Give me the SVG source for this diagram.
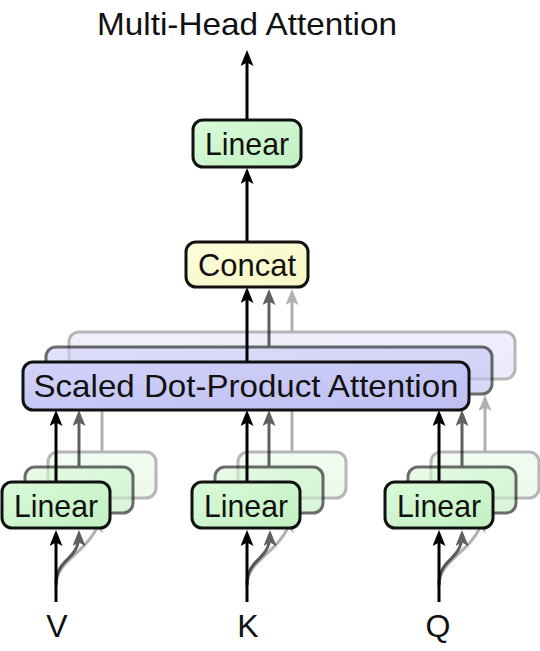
<svg xmlns="http://www.w3.org/2000/svg" width="540" height="651" viewBox="0 0 540 651">
<defs>
<marker id="ah" viewBox="0 0 16 13" refX="12" refY="6.5" markerWidth="16" markerHeight="13" markerUnits="userSpaceOnUse" orient="auto">
<path d="M0,0 L16,6.5 L0,13 L3.5,6.5 z" fill="#000"/>
</marker>
<linearGradient id="gG" x1="0" y1="0" x2="1" y2="1"><stop offset="0" stop-color="#d9fad9"/><stop offset="1" stop-color="#c2f0c2"/></linearGradient>
<linearGradient id="gB" x1="0" y1="0" x2="1" y2="1"><stop offset="0" stop-color="#d2d2fa"/><stop offset="1" stop-color="#bebef2"/></linearGradient>
<linearGradient id="gY" x1="0" y1="0" x2="1" y2="1"><stop offset="0" stop-color="#fefedc"/><stop offset="1" stop-color="#f6f6c4"/></linearGradient>
</defs>
<style>
.box{stroke:#111;stroke-width:3}
.lin{fill:url(#gG)}
.att{fill:url(#gB)}
.cat{fill:url(#gY)}
.t{font-family:"Liberation Sans",Arial,sans-serif;font-size:32px;fill:#111;text-anchor:middle}
.a{fill:none;stroke:#000;stroke-width:3;marker-end:url(#ah)}
</style>

<g id="layer3" opacity="0.3">
<g id="conn3">
<path class="a" d="M56,585 C56,560 90,552 100,520"/>
<path class="a" d="M247,585 C247,560 281,552 291,520"/>
<path class="a" d="M439,585 C439,560 473,552 483,520"/>
</g>
<g id="linV3"><rect class="box lin" x="48" y="452" width="108" height="46" rx="10"/></g>
<g id="linK3"><rect class="box lin" x="238" y="452" width="108" height="46" rx="10"/></g>
<g id="linQ3"><rect class="box lin" x="431" y="452" width="108" height="46" rx="10"/></g>
<g id="att3"><rect class="box att" x="69" y="332" width="446" height="47" rx="10"/></g>
<g id="conn3b">
<path class="a" d="M102,452 V399"/>
<path class="a" d="M292,452 V399"/>
<path class="a" d="M485,452 V399"/>
<path class="a" d="M292,332 V293"/>
</g>
</g>

<g id="layer2" opacity="0.62">
<g id="conn2">
<path class="a" d="M56,585 C56,556 79,562 79,534"/>
<path class="a" d="M247,585 C247,556 270,562 270,534"/>
<path class="a" d="M439,585 C439,556 462,562 462,534"/>
</g>
<g id="linV2"><rect class="box lin" x="25" y="467" width="108" height="46" rx="10"/></g>
<g id="linK2"><rect class="box lin" x="215" y="467" width="108" height="46" rx="10"/></g>
<g id="linQ2"><rect class="box lin" x="408" y="467" width="108" height="46" rx="10"/></g>
<g id="att2"><rect class="box att" x="46" y="347" width="446" height="47" rx="10"/></g>
<g id="conn2b">
<path class="a" d="M79,467 V414"/>
<path class="a" d="M269,467 V414"/>
<path class="a" d="M462,467 V414"/>
<path class="a" d="M269,347 V293"/>
</g>
</g>

<g id="connectors">
<path class="a" d="M56,602 V534"/>
<path class="a" d="M247,602 V534"/>
<path class="a" d="M439,602 V534"/>
<path class="a" d="M56,482 V414"/>
<path class="a" d="M247,482 V414"/>
<path class="a" d="M439,482 V414"/>
<path class="a" d="M247,362 V291"/>
<path class="a" d="M247,242 V172"/>
<path class="a" d="M247,120 V54"/>
</g>
<g id="linV"><rect class="box lin" x="2" y="482" width="108" height="46" rx="10"/><text class="t" x="56" y="517" textLength="84" lengthAdjust="spacingAndGlyphs">Linear</text></g>
<g id="linK"><rect class="box lin" x="192" y="482" width="108" height="46" rx="10"/><text class="t" x="246" y="517" textLength="84" lengthAdjust="spacingAndGlyphs">Linear</text></g>
<g id="linQ"><rect class="box lin" x="385" y="482" width="108" height="46" rx="10"/><text class="t" x="439" y="517" textLength="84" lengthAdjust="spacingAndGlyphs">Linear</text></g>
<g id="att"><rect class="box att" x="23" y="362" width="446" height="48" rx="10"/><text class="t" x="246" y="397" textLength="425" lengthAdjust="spacingAndGlyphs">Scaled Dot-Product Attention</text></g>
<g id="concat"><rect class="box cat" x="186" y="242" width="122" height="45" rx="10"/><text class="t" x="247" y="276" textLength="98" lengthAdjust="spacingAndGlyphs">Concat</text></g>
<g id="linTop"><rect class="box lin" x="193" y="120" width="108" height="47" rx="10"/><text class="t" x="247" y="155" textLength="84" lengthAdjust="spacingAndGlyphs">Linear</text></g>
<g id="labels">
<text class="t" x="247" y="35" textLength="300" lengthAdjust="spacingAndGlyphs">Multi-Head Attention</text>
<text class="t" x="57" y="637">V</text>
<text class="t" x="248" y="637">K</text>
<text class="t" x="438" y="637">Q</text>
</g>
</svg>
